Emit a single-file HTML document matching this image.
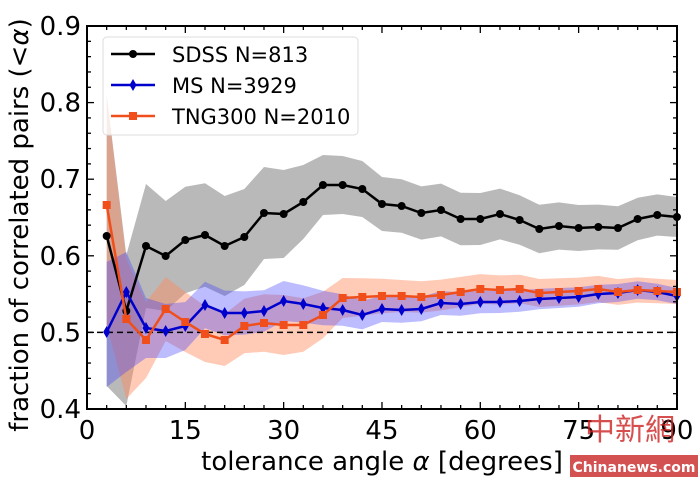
<!DOCTYPE html>
<html><head><meta charset="utf-8"><style>
html,body{margin:0;padding:0;background:#fff;}
svg{display:block;font-family:"DejaVu Sans","Liberation Sans",sans-serif;}
</style></head><body>
<svg id="s" width="700" height="480" xmlns="http://www.w3.org/2000/svg"></svg>
<script>
const X=d=>87+d*6.555, Y=v=>409-(v-0.4)*766;
const sd=[236,311,246,256,240,235,246,237,213,214,202,185,185,189,204,206,213,210,219,219,214,220,229,226,228,227,228,219,215,217];
const ms=[332,292,328,331,326,305,313,313,311,301,304,308,310,315,309,310,309,303,304,302,302,301,299,298,297,294,293,290,292,296];
const tn=[205,319,340,309,322,334,340,326,323,325,325,315,298,297,296,296,297,295,292,289,290,289,293,292,291,289,292,290,291,292];
const interp=(pts,d)=>{for(let i=0;i<pts.length-1;i++){const[a,va]=pts[i],[b,vb]=pts[i+1];if(d>=a&&d<=b)return va+(vb-va)*(d-a)/(b-a);}return pts[pts.length-1][1];};
let h='';
function band(a,hw,col,op){let up=[],lo=[];a.forEach((y,i)=>{const d=3*(i+1);const w=hw(d,i);up.push(X(d).toFixed(1)+','+Math.max(26,y-w[0]).toFixed(1));lo.unshift(X(d).toFixed(1)+','+Math.min(409,y+w[1]).toFixed(1));});h+=`<polygon points="${up.join(' ')} ${lo.join(' ')}" fill="${col}" fill-opacity="${op}"/>`;}
const gw=[[9,62],[12,55],[21,50],[30,44],[36,30],[45,27],[60,26],[90,20]];
band(sd,(d,i)=>i==0?[141,150]:i==1?[56,95]:[interp(gw,d),interp(gw,d)],'#808080',0.55);
const ow=[[9,38],[12,32],[21,26],[30,30],[39,20],[48,16],[90,12]];
band(tn,(d,i)=>i==0?[110,120]:i==1?[60,80]:[interp(ow,d),interp(ow,d)],'#ff8c60',0.45);
const bw=[[9,30],[15,24],[30,20],[45,13],[90,8]];
band(ms,(d,i)=>i==0?[70,55]:i==1?[40,80]:[interp(bw,d),interp(bw,d)],'#4040ff',0.35);
h+=`<line x1="87" y1="${Y(0.5)}" x2="677" y2="${Y(0.5)}" stroke="#000" stroke-width="1.5" stroke-dasharray="6,4"/>`;
function line(a,col,mk){const p=a.map((y,i)=>X(3*(i+1)).toFixed(1)+','+y).join(' ');h+=`<polyline points="${p}" fill="none" stroke="${col}" stroke-width="2.5"/>`;a.forEach((y,i)=>{const x=X(3*(i+1));h+=mk(x,y);});}
line(sd,'#000',(x,y)=>`<circle cx="${x}" cy="${y}" r="4" fill="#000"/>`);
line(ms,'#0000cc',(x,y)=>`<polygon points="${x},${y-6} ${x+3.5},${y} ${x},${y+6} ${x-3.5},${y}" fill="#0000cc"/>`);
line(tn,'#f04e1a',(x,y)=>`<rect x="${x-4}" y="${y-4}" width="8" height="8" fill="#f04e1a"/>`);
for(let d=0;d<=90;d+=3){const x=X(d),L=d%15==0?7:4;h+=`<line x1="${x}" y1="409" x2="${x}" y2="${409-L}" stroke="#000" stroke-width="1.3"/><line x1="${x}" y1="26" x2="${x}" y2="${26+L}" stroke="#000" stroke-width="1.3"/>`;if(d%15==0)h+=`<text x="${x}" y="439" font-size="26" text-anchor="middle">${d}</text>`;}
for(let k=0;k<=25;k++){const v=0.4+k*0.02,y=Y(v),L=k%5==0?7:4;h+=`<line x1="87" y1="${y}" x2="${87+L}" y2="${y}" stroke="#000" stroke-width="1.3"/><line x1="677" y1="${y}" x2="${677-L}" y2="${y}" stroke="#000" stroke-width="1.3"/>`;if(k%5==0)h+=`<text x="81" y="${y+9}" font-size="26" text-anchor="end">${v.toFixed(1)}</text>`;}
h+=`<rect x="87" y="26" width="590" height="383" fill="none" stroke="#000" stroke-width="2"/>`;
h+=`<text x="382" y="470" font-size="26" text-anchor="middle">tolerance angle <tspan font-style="italic">α</tspan> [degrees]</text>`;
h+=`<text transform="translate(28,225) rotate(-90)" font-size="26" text-anchor="middle">fraction of correlated pairs (&lt;<tspan font-style="italic">α</tspan>)</text>`;
h+=`<rect x="103" y="37" width="255" height="98" rx="4" fill="#fff" fill-opacity="0.8" stroke="#ddd"/>`;
const lg=[['SDSS N=813','#000','c',54],['MS N=3929','#0000cc','d',85],['TNG300 N=2010','#f04e1a','s',116]];
lg.forEach(([t,c,m,y])=>{h+=`<line x1="111" y1="${y}" x2="155" y2="${y}" stroke="${c}" stroke-width="2.5"/>`;h+=m=='c'?`<circle cx="133" cy="${y}" r="4" fill="${c}"/>`:m=='d'?`<polygon points="133,${y-6} 136.5,${y} 133,${y+6} 129.5,${y}" fill="${c}"/>`:`<rect x="129" y="${y-4}" width="8" height="8" fill="${c}"/>`;h+=`<text x="172" y="${y+8}" font-size="21">${t}</text>`;});
h+=`<text x="585" y="440" font-size="30" fill="#c22" opacity="0.8" font-family="Noto Sans CJK SC,sans-serif">中新網</text>`;
h+=`<rect x="570" y="455" width="128" height="22" fill="#c33" opacity="0.85"/><text x="634" y="472" font-size="14" fill="#fff" text-anchor="middle" font-weight="bold">Chinanews.com</text>`;
document.getElementById('s').innerHTML=h;
</script>
</body></html>
